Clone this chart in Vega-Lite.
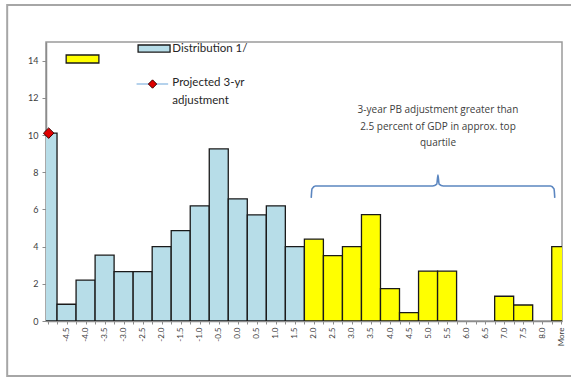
{
  "$schema": "https://vega.github.io/schema/vega-lite/v6.json",
  "width": 516,
  "height": 279,
  "autosize": {"type": "none"},
  "padding": {"left": 46, "top": 42, "right": 9, "bottom": 57},
  "background": "white",
  "config": {
    "font": "Lato",
    "view": {"stroke": "#9a9a9a", "strokeWidth": 1.5},
    "axis": {"labelOverlap": false}
  },
  "datasets": {
    "bars": [
      {"bin": "-5.0", "x": -5.0, "y": 10.1, "group": "Distribution 1/"},
      {"bin": "-4.5", "x": -4.5, "y": 0.9, "group": "Distribution 1/"},
      {"bin": "-4.0", "x": -4.0, "y": 2.2, "group": "Distribution 1/"},
      {"bin": "-3.5", "x": -3.5, "y": 3.54, "group": "Distribution 1/"},
      {"bin": "-3.0", "x": -3.0, "y": 2.65, "group": "Distribution 1/"},
      {"bin": "-2.5", "x": -2.5, "y": 2.65, "group": "Distribution 1/"},
      {"bin": "-2.0", "x": -2.0, "y": 4.0, "group": "Distribution 1/"},
      {"bin": "-1.5", "x": -1.5, "y": 4.86, "group": "Distribution 1/"},
      {"bin": "-1.0", "x": -1.0, "y": 6.19, "group": "Distribution 1/"},
      {"bin": "-0.5", "x": -0.5, "y": 9.25, "group": "Distribution 1/"},
      {"bin": "0.0", "x": 0.0, "y": 6.57, "group": "Distribution 1/"},
      {"bin": "0.5", "x": 0.5, "y": 5.71, "group": "Distribution 1/"},
      {"bin": "1.0", "x": 1.0, "y": 6.19, "group": "Distribution 1/"},
      {"bin": "1.5", "x": 1.5, "y": 4.0, "group": "Distribution 1/"},
      {"bin": "2.0", "x": 2.0, "y": 4.4, "group": "Top quartile"},
      {"bin": "2.5", "x": 2.5, "y": 3.52, "group": "Top quartile"},
      {"bin": "3.0", "x": 3.0, "y": 4.0, "group": "Top quartile"},
      {"bin": "3.5", "x": 3.5, "y": 5.72, "group": "Top quartile"},
      {"bin": "4.0", "x": 4.0, "y": 1.74, "group": "Top quartile"},
      {"bin": "4.5", "x": 4.5, "y": 0.45, "group": "Top quartile"},
      {"bin": "5.0", "x": 5.0, "y": 2.68, "group": "Top quartile"},
      {"bin": "5.5", "x": 5.5, "y": 2.68, "group": "Top quartile"},
      {"bin": "6.0", "x": 6.0, "y": 0, "group": "Top quartile"},
      {"bin": "6.5", "x": 6.5, "y": 0, "group": "Top quartile"},
      {"bin": "7.0", "x": 7.0, "y": 1.33, "group": "Top quartile"},
      {"bin": "7.5", "x": 7.5, "y": 0.86, "group": "Top quartile"},
      {"bin": "8.0", "x": 8.0, "y": 0, "group": "Top quartile"},
      {"bin": "More", "x": 8.5, "y": 4.0, "group": "Top quartile"}
    ],
    "frame": [{"x": -6.06, "x2": 9.2, "y": -2.96, "y2": 16.99}],
    "projected": [{"x": -4.97, "y": 10.1}],
    "swatches": [
      {"x": -4.51, "x2": -3.65, "y": 13.87, "y2": 14.3, "group": "Top quartile"},
      {"x": -2.62, "x2": -1.78, "y": 14.46, "y2": 14.84, "group": "Distribution 1/"}
    ],
    "legendLine": [{"x": -2.66, "y": 12.74}, {"x": -1.83, "y": 12.74}],
    "legendDiamond": [{"x": -2.24, "y": 12.74}],
    "legendText": [
      {"x": -1.72, "y": 14.65, "t": "Distribution 1/"},
      {"x": -1.72, "y": 12.78, "t": "Projected 3-yr"},
      {"x": -1.72, "y": 11.85, "t": "adjustment"}
    ],
    "note": [
      {"x": 5.26, "y": 11.34, "t": "3-year PB adjustment greater than"},
      {"x": 5.26, "y": 10.44, "t": "2.5 percent of GDP in approx. top"},
      {"x": 5.26, "y": 9.57, "t": "quartile"}
    ],
    "brace": [
      {"o": 1, "x": 1.93, "y": 6.62},
      {"o": 2, "x": 1.95, "y": 7.1},
      {"o": 3, "x": 2.04, "y": 7.26},
      {"o": 4, "x": 5.12, "y": 7.26},
      {"o": 5, "x": 5.23, "y": 7.36},
      {"o": 6, "x": 5.26, "y": 7.85},
      {"o": 7, "x": 5.29, "y": 7.36},
      {"o": 8, "x": 5.4, "y": 7.26},
      {"o": 9, "x": 8.22, "y": 7.26},
      {"o": 10, "x": 8.31, "y": 7.1},
      {"o": 11, "x": 8.33, "y": 6.62}
    ]
  },
  "encoding": {
    "x": {
      "field": "x",
      "type": "quantitative",
      "scale": {"domain": [-5.04, 8.52], "nice": false, "zero": false, "padding": 0},
      "axis": {
        "title": null,
        "values": [-5, -4.75, -4.5, -4.25, -4, -3.75, -3.5, -3.25, -3, -2.75, -2.5, -2.25, -2, -1.75, -1.5, -1.25, -1, -0.75, -0.5, -0.25, 0, 0.25, 0.5, 0.75, 1, 1.25, 1.5, 1.75, 2, 2.25, 2.5, 2.75, 3, 3.25, 3.5, 3.75, 4, 4.25, 4.5, 4.75, 5, 5.25, 5.5, 5.75, 6, 6.25, 6.5, 6.75, 7, 7.25, 7.5, 7.75, 8, 8.25, 8.5],
        "labelExpr": "(datum.value * 2) % 1 != 0 ? '' : (datum.value > 8.4 ? 'More' : (datum.value < -4.9 ? '' : replace(format(datum.value, '.1f'), '\u2212', '-')))",
        "labelAngle": -90,
        "labelAlign": "right",
        "labelBaseline": "middle",
        "labelFontSize": 8,
        "labelColor": "#404040",
        "labelPadding": 3,
        "labelOverlap": false,
        "labelBound": false,
        "labelFlush": false,
        "tickSize": 3,
        "tickColor": "#8c8c8c",
        "domainColor": "#8c8c8c",
        "domainWidth": 1.5,
        "grid": false
      }
    },
    "y": {
      "field": "y",
      "type": "quantitative",
      "scale": {"domain": [0, 15], "nice": false, "padding": 0},
      "axis": {
        "title": null,
        "values": [0, 2, 4, 6, 8, 10, 12, 14],
        "format": "d",
        "labelOverlap": false,
        "labelFontSize": 9,
        "labelColor": "#404040",
        "labelPadding": 4,
        "tickSize": 4,
        "tickColor": "#8c8c8c",
        "domainColor": "#8c8c8c",
        "domainWidth": 1.5,
        "grid": false
      }
    }
  },
  "layer": [
    {
      "data": {"name": "frame"},
      "mark": {"type": "rect", "fill": null, "fillOpacity": 0, "stroke": "#a6a6a6", "strokeWidth": 2, "clip": false},
      "encoding": {
        "x2": {"field": "x2"},
        "y2": {"field": "y2"}
      }
    },
    {
      "data": {"name": "bars"},
      "transform": [{"filter": "datum.y > 0"}],
      "mark": {"type": "bar", "size": 19, "stroke": "#1a1a1a", "strokeWidth": 1.3, "clip": true},
      "encoding": {
        "color": {
          "field": "group",
          "type": "nominal",
          "scale": {"domain": ["Distribution 1/", "Top quartile"], "range": ["#B7DDE8", "#FFFF00"]},
          "legend": null
        }
      }
    },
    {
      "data": {"name": "swatches"},
      "mark": {"type": "rect", "stroke": "#1a1a1a", "strokeWidth": 1.3},
      "encoding": {
        "x2": {"field": "x2"},
        "y2": {"field": "y2"},
        "color": {"field": "group", "type": "nominal", "legend": null}
      }
    },
    {
      "data": {"name": "legendLine"},
      "mark": {"type": "line", "color": "#9DC3E6", "strokeWidth": 1.5},
      "encoding": {}
    },
    {
      "data": {"name": "legendDiamond"},
      "mark": {"type": "point", "shape": "diamond", "filled": true, "fill": "#E00000", "stroke": "#3a0000", "strokeWidth": 1, "size": 70, "opacity": 1}
    },
    {
      "data": {"name": "projected"},
      "mark": {"type": "point", "shape": "diamond", "filled": true, "fill": "#E00000", "stroke": "#3a0000", "strokeWidth": 1, "size": 110, "opacity": 1, "clip": false}
    },
    {
      "data": {"name": "legendText"},
      "mark": {"type": "text", "align": "left", "baseline": "middle", "fontSize": 11.5, "color": "#262626"},
      "encoding": {"text": {"field": "t"}}
    },
    {
      "data": {"name": "note"},
      "mark": {"type": "text", "align": "center", "baseline": "middle", "fontSize": 10, "font": "Open Sans", "color": "#404040"},
      "encoding": {"text": {"field": "t"}}
    },
    {
      "data": {"name": "brace"},
      "mark": {"type": "line", "color": "#5B86C0", "strokeWidth": 1.6, "interpolate": "monotone"},
      "encoding": {"order": {"field": "o", "type": "quantitative"}}
    }
  ]
}
